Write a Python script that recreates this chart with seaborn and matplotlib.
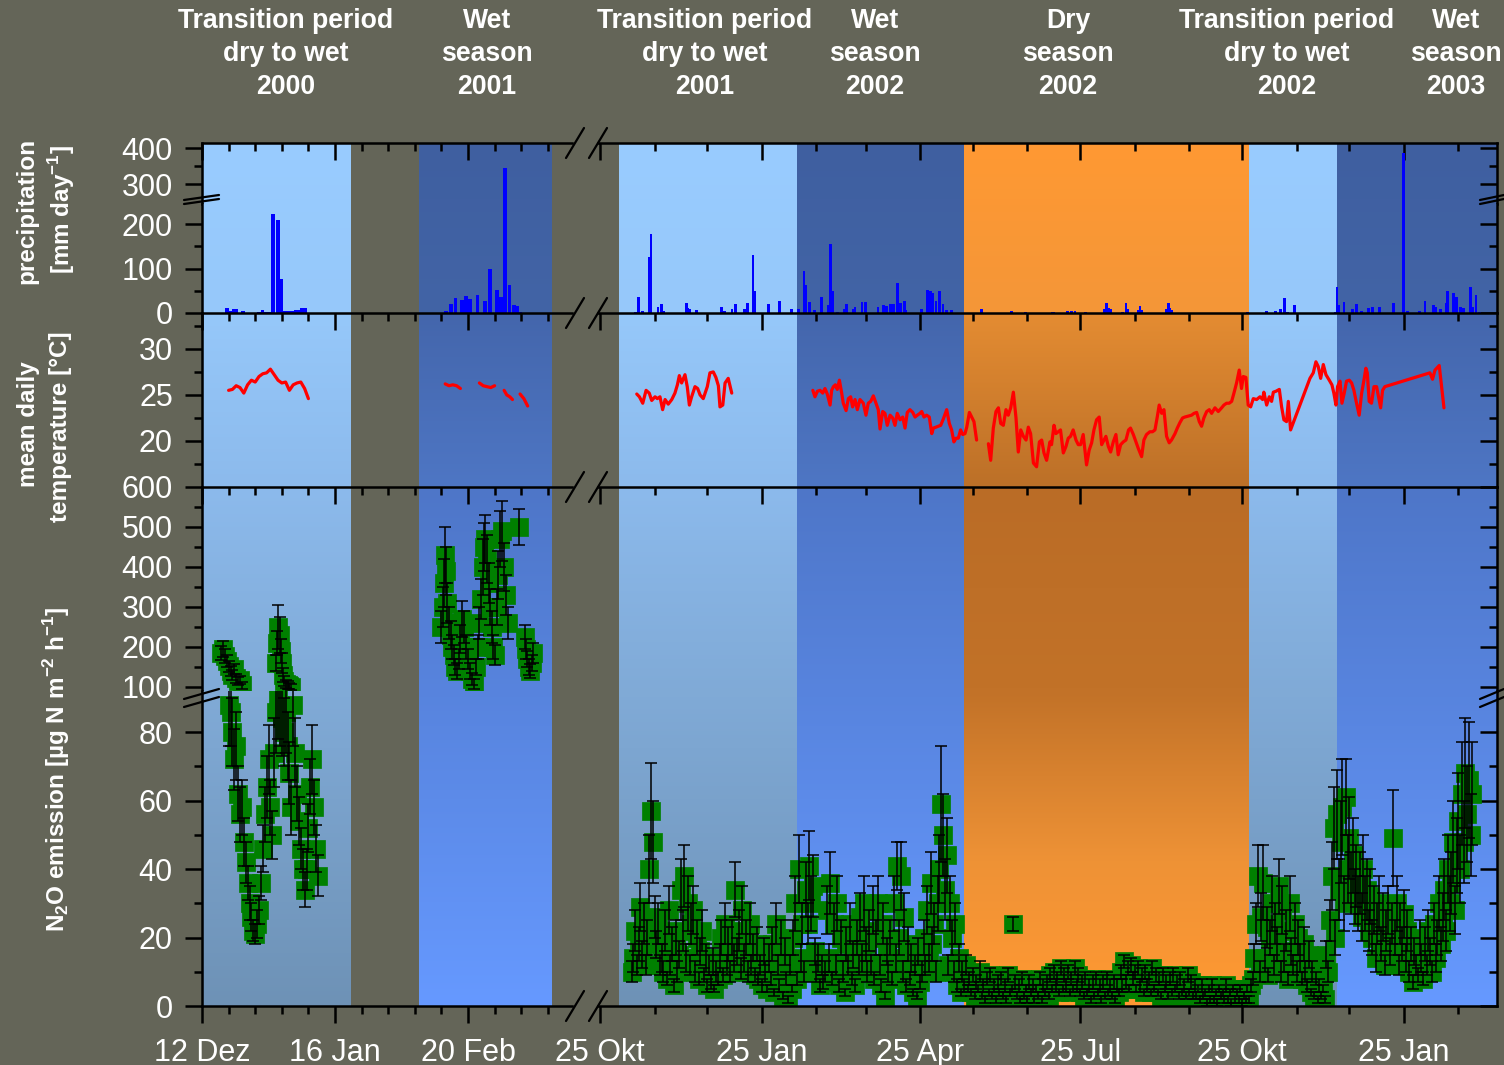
import numpy as np
import pandas as pd
import matplotlib
matplotlib.use("Agg")
import matplotlib.pyplot as plt
import matplotlib.dates as mdates
from matplotlib.lines import Line2D
import seaborn as sns

sns.set_style("ticks")
plt.rcParams["font.family"] = ["Liberation Sans", "DejaVu Sans"]
plt.rcParams["mathtext.fontset"] = "custom"
plt.rcParams["mathtext.rm"] = "Liberation Sans"
plt.rcParams["mathtext.bf"] = "Liberation Sans:bold"

# ---------------------------------------------------------------- data
LEFT_ORIGIN = "2000-12-12"    # day offsets of the 2000/2001 campaign
RIGHT_ORIGIN = "2001-10-25"   # day offsets of the 2001-2003 campaign

season_titles = ["Transition period\ndry to wet\n2000", "Wet\nseason\n2001",
                 "Transition period\ndry to wet\n2001", "Wet\nseason\n2002",
                 "Dry\nseason\n2002", "Transition period\ndry to wet\n2002",
                 "Wet\nseason\n2003"]

band_starts = ["2000-12-12", "2001-02-07", "2001-11-05", "2002-02-14",
               "2002-05-20", "2002-10-29", "2002-12-18"]
band_ends = ["2001-01-20", "2001-03-14", "2002-02-14", "2002-05-20",
             "2002-10-29", "2002-12-18", "2003-03-31"]
band_kinds = ["light", "dark", "light", "dark", "dry", "light", "dark"]

left_tick_dates = ["2000-12-12", "2001-01-16", "2001-02-20"]
left_tick_labels = ["12 Dez", "16 Jan", "20 Feb"]
right_tick_dates = ["2001-10-25", "2002-01-25", "2002-04-25", "2002-07-25",
                    "2002-10-25", "2003-01-25"]
right_tick_labels = ["25 Okt", "25 Jan", "25 Apr", "25 Jul", "25 Okt", "25 Jan"]

precip_hi_ticks = [300, 400]
precip_lo_ticks = [0, 100, 200]
temp_ticks = [20, 25, 30]
n2o_hi_ticks = [100, 200, 300, 400, 500, 600]
n2o_lo_ticks = [0, 20, 40, 60, 80]

# daily precipitation [mm]
precip_left_days = [6.6, 7.7, 8.3, 9.1, 10.8, 15.0, 15.9, 16.9, 17.9, 18.7, 19.9,
                    20.9, 21.9, 22.9, 23.9, 24.6, 25.4, 26.2, 27.1,
                    64.3, 65.5, 66.7, 68.4, 69.5, 70.5, 72.5, 74.5, 75.7, 77.6,
                    78.7, 79.7, 80.9, 82.2, 83.0, 83.8]
precip_left_mm = [12, 5, 10, 8, 5, 3, 7, 3, 3, 222, 210,
                  77, 4, 4, 5, 7, 6, 12, 12,
                  5, 20, 33, 30, 38, 32, 40, 28, 100, 52,
                  35, 345, 62, 17, 15, 3]
precip_right_days = [20, 22, 24, 28, 29, 33, 35, 36, 49, 50, 51, 55, 69, 71, 75, 77,
                     82, 84, 87, 88, 96, 102, 109, 113, 116, 117, 119, 122, 126, 130,
                     131, 132, 135, 139, 140, 144, 145, 149, 151, 158, 161, 163, 165,
                     167, 169, 171, 173, 174, 183, 186, 188, 189, 191, 193, 195, 197,
                     200, 217, 234, 242, 257, 258, 266, 268, 270, 276, 287, 288, 289,
                     290, 297, 299, 300, 306, 307, 308, 322, 323, 324, 325, 368, 379,
                     384, 387, 389, 391, 395, 418, 419, 420, 423, 428, 430, 433, 437,
                     439, 443, 451, 457, 459, 466, 469, 474, 475, 478, 481, 482, 485,
                     487, 489, 491, 495, 496, 498, 500]
precip_right_mm = [3, 37, 5, 126, 178, 14, 20, 4, 22, 12, 10, 6, 14, 4, 8, 20,
                   8, 22, 130, 49, 20, 27, 10, 8, 95, 63, 25, 7, 37, 18,
                   155, 49, 3, 10, 20, 10, 14, 25, 25, 14, 17, 16, 21,
                   20, 67, 22, 26, 6, 9, 52, 49, 44, 27, 49, 20, 6,
                   7, 9, 4, 3, 3, 3, 5, 4, 4, 3, 8, 23, 12,
                   8, 3, 22, 8, 6, 16, 6, 8, 23, 12, 6, 2, 4,
                   4, 10, 33, 3, 17, 2, 58, 19, 25, 8, 20, 5, 11,
                   14, 14, 23, 385, 5, 4, 27, 19, 14, 10, 23, 49, 46,
                   37, 14, 11, 58, 13, 40, 3]

# mean daily air temperature [deg C]
temp_dec2000_days = list(range(7, 29))
temp_dec2000 = [25.5, 25.6, 26.0, 25.8, 25.2, 26.1, 26.6, 26.4, 27.0, 27.3, 27.4,
                27.8, 27.2, 26.6, 26.3, 26.4, 25.5, 26.1, 26.3, 26.4, 25.7, 24.6]
temp_feb2001_days = [[64, 65, 66, 67, 68], [73, 74, 75, 76, 77],
                     [79.5, 80.2, 81.0, 81.7], [83.7, 84.7, 85.7]]
temp_feb2001 = [[26.2, 26.0, 26.1, 26.0, 25.7], [26.3, 26.0, 25.9, 25.8, 26.0],
                [25.5, 25.0, 24.8, 24.5], [25.1, 24.6, 23.8]]
temp_nov2001_days = [20.9, 22.4, 24.3, 26.2, 28.0, 29.4, 31.3, 32.6, 34.1, 35.6, 37.0,
                     38.8, 40.8, 42.6, 44.0, 45.1, 46.4, 48.3, 49.6, 50.8, 52.1, 54.0,
                     55.5, 56.9, 58.7, 61.0, 62.5, 64.4, 65.9, 67.3, 68.2, 69.8, 71.1,
                     72.9, 74.9]
temp_nov2001 = [25.1, 24.8, 24.1, 25.5, 25.2, 24.4, 24.8, 24.6, 24.8, 23.4, 24.5,
                24.0, 24.5, 25.2, 26.1, 27.1, 26.3, 27.2, 25.9, 23.9, 24.8, 25.9,
                25.7, 25.0, 24.6, 25.9, 27.4, 27.5, 26.9, 26.0, 23.7, 23.9, 26.3,
                26.8, 25.2]
temp_feb2002_days = [121.0, 122.2, 123.6, 125.1, 126.6, 127.9, 129.2, 130.8, 131.7,
                     132.7, 133.8, 134.9, 136.1, 137.4, 138.3, 139.9, 141.2, 142.5,
                     143.6, 145.0, 146.3, 147.8, 149.7, 151.2, 152.5, 153.9, 155.4,
                     156.9, 158.2, 159.2, 160.7, 162.0, 163.3, 164.9, 166.4, 167.7,
                     169.0, 170.6, 172.1, 173.4, 174.7, 176.2, 177.8, 179.1, 180.4,
                     181.9, 182.9, 184.2, 185.7, 187.2, 188.6, 189.5, 191.0, 192.3,
                     193.7, 195.2, 197.1, 198.6, 199.9, 201.2, 202.4, 203.7, 205.0,
                     206.2, 207.5, 208.5, 210.0, 211.3, 212.6, 214.1]
temp_feb2002 = [25.5, 24.8, 25.4, 25.5, 25.2, 25.7, 25.1, 23.9, 25.5,
                25.9, 26.1, 25.6, 26.6, 25.2, 24.1, 23.3, 24.6, 24.8,
                23.7, 24.5, 23.4, 24.5, 24.1, 22.8, 24.1, 24.3, 24.9,
                24.1, 23.4, 21.3, 23.2, 23.0, 21.7, 22.8, 22.5, 21.7,
                23.0, 22.3, 22.6, 21.4, 23.1, 23.4, 23.1, 22.6, 22.8,
                23.0, 23.2, 22.6, 22.8, 22.6, 20.8, 21.4, 21.5, 21.6,
                21.7, 22.4, 23.4, 21.9, 21.2, 19.9, 20.3, 20.3, 21.2,
                20.7, 20.8, 21.5, 23.1, 22.6, 22.1, 20.1]
temp_jun2002_days = [220.8, 222.1, 223.6, 225.1, 226.5, 227.8, 229.3, 230.8, 232.1,
                     233.5, 235.0, 236.5, 237.8, 239.2, 240.7, 242.2, 243.5, 244.8,
                     246.4, 248.2, 249.8, 251.1, 252.4, 253.9, 255.8, 256.7, 258.1,
                     259.2, 260.5, 261.8, 263.4, 264.9, 266.2, 267.5, 269.0, 270.6,
                     271.9, 273.2, 274.7, 276.6, 278.1, 279.5, 280.8, 282.3, 283.8,
                     285.2, 286.5, 287.6, 289.0, 290.3, 291.8, 293.3, 294.6, 296.0,
                     297.5, 299.0, 300.5, 301.6, 303.2, 304.7, 306.0, 307.9, 309.2,
                     310.7, 312.6, 314.1, 315.5, 316.8, 317.9, 319.3, 320.6, 322.1,
                     323.6, 324.9, 326.9, 328.2, 329.7, 331.2, 332.5, 334.4, 336.3,
                     337.7, 339.2, 340.7, 342.0, 343.3, 344.9, 346.4, 347.7, 349.6,
                     351.5, 353.4, 354.7, 356.2, 357.7, 359.1, 360.4, 361.9, 363.4,
                     364.7, 365.7, 367.2, 368.5, 369.9, 371.4, 373.3, 375.2, 376.7,
                     377.4, 379.0, 380.5, 381.8, 382.8, 384.3, 386.2, 387.5, 388.8,
                     390.3, 391.3, 392.6, 403.6, 405.5, 407.0, 408.3, 409.7, 411.2,
                     412.7, 414.6, 416.1, 417.2, 418.4, 419.3, 420.7, 421.8, 423.1,
                     424.4, 426.0, 427.3, 428.6, 430.1, 431.6, 433.0, 434.3, 435.4,
                     436.2, 437.3, 438.6, 440.0, 441.5, 442.6, 443.8, 444.9, 446.2,
                     471.8, 473.3, 474.7, 477.1, 479.8]
temp_jun2002 = [19.7, 17.9, 21.4, 23.2, 23.6, 21.9, 21.7, 23.4, 22.8,
                23.6, 25.3, 22.5, 18.8, 21.2, 20.5, 20.1, 21.5, 20.8,
                17.6, 17.2, 19.9, 20.1, 18.7, 17.9, 19.9, 19.6, 21.7,
                20.8, 21.0, 21.2, 18.7, 19.4, 20.3, 20.5, 21.2, 20.1,
                19.6, 19.6, 20.7, 17.4, 19.0, 19.8, 21.2, 22.3, 22.6,
                19.6, 20.1, 20.5, 19.4, 18.8, 19.9, 20.7, 18.5, 19.6,
                19.9, 20.1, 21.2, 21.4, 20.7, 19.9, 19.2, 18.3, 20.1,
                20.7, 21.0, 21.0, 21.2, 22.6, 23.9, 23.0, 23.4, 20.5,
                19.8, 20.1, 20.8, 21.4, 22.0, 22.5, 22.6, 22.7, 22.8,
                23.0, 23.1, 22.1, 21.6, 22.5, 23.2, 23.4, 23.0, 23.6,
                23.2, 23.6, 23.9, 24.1, 24.1, 24.3, 25.2, 26.3, 27.7,
                25.7, 27.0, 26.9, 23.9, 23.7, 24.6, 24.5, 24.8, 24.5,
                25.3, 23.9, 24.8, 24.3, 25.3, 25.4, 25.6, 23.7, 22.3,
                22.1, 24.3, 21.2, 26.8, 27.4, 28.6, 28.1, 26.8, 28.3,
                27.2, 26.6, 26.1, 25.2, 23.9, 25.9, 26.5, 24.1, 25.2,
                26.5, 26.6, 26.3, 25.5, 24.1, 22.8, 25.2, 26.6, 27.9,
                27.4, 24.3, 24.1, 25.9, 25.9, 24.8, 23.6, 25.5, 25.9,
                27.4, 26.7, 27.7, 28.2, 23.6]

# N2O emission [ug N m-2 h-1], 2000/2001 campaign
n2o_dec2000_days = [5.0, 5.5, 6.0, 6.5, 7.0, 7.5, 8.0, 8.5, 9.0, 9.5, 10.0, 10.5,
                    7.0, 7.5, 8.0, 8.5, 9.0, 9.5, 10.0, 10.5, 11.0, 11.5, 12.0, 12.5,
                    13.0, 13.5, 14.0, 14.5, 15.0, 15.5, 16.0, 16.5, 17.0, 17.5, 18.0,
                    18.5, 19.0, 19.5,
                    19.5, 19.8, 20.1, 20.4, 20.7, 21.0, 21.3, 21.6, 22.0, 22.5, 23.0, 23.5,
                    20.0, 20.5, 21.0, 21.5, 22.0, 22.5, 23.0, 23.5, 24.0, 24.5, 25.0,
                    25.5, 26.0, 26.5, 27.0, 27.5, 28.0, 28.5, 29.0, 29.5, 30.0, 30.5]
n2o_dec2000 = [185, 195, 178, 165, 152, 140, 130, 145, 122, 115, 118, 104,
               88, 86, 80, 72, 76, 62, 56, 58, 48, 42, 36, 30,
               26, 22, 21, 24, 28, 36, 46, 56, 64, 72, 58,
               50, 74, 86,
               160, 210, 250, 230, 190, 160, 130, 115, 108, 104, 102, 100,
               90, 88, 84, 80, 86, 76, 68, 58, 88, 74, 62,
               54, 46, 40, 34, 40, 52, 64, 72, 58, 46, 38]
n2o_dec2000_err = [18, 20, 18, 15, 14, 12, 12, 13, 11, 10, 10, 9,
                   12, 10, 10, 9, 10, 8, 8, 8, 7, 6, 5, 5,
                   4, 3, 3, 4, 4, 5, 7, 8, 9, 10, 8,
                   7, 10, 12,
                   20, 30, 55, 45, 30, 25, 18, 12, 10, 10, 8, 8,
                   12, 12, 11, 10, 12, 10, 9, 8, 12, 10, 8,
                   7, 6, 6, 5, 6, 7, 8, 10, 8, 7, 6]
n2o_feb2001_days = [63.0, 63.3, 63.6, 64.0, 64.3, 64.6, 65.0, 65.4, 65.8, 66.2, 66.6,
                    67.0, 67.5, 68.0, 68.5, 69.0, 69.5, 70.0, 70.5, 71.0, 71.5, 72.0,
                    72.5, 73.0, 73.5, 74.0, 74.3, 74.6, 75.0, 75.4, 75.8, 76.2, 76.6,
                    77.0, 77.5, 78.0, 78.5, 79.0, 79.5, 80.0, 80.5, 83.4,
                    85.0, 85.3, 85.6, 86.0, 86.4, 86.8, 87.2]
n2o_feb2001 = [250, 300, 360, 430, 390, 310, 260, 230, 200, 180, 150,
               140, 170, 220, 270, 250, 200, 170, 140, 120, 108, 150,
               200, 260, 320, 400, 450, 470, 420, 360, 300, 250, 200,
               180, 300, 380, 470, 490, 400, 330, 260, 500,
               225, 195, 170, 150, 140, 160, 185]
n2o_feb2001_err = [40, 50, 60, 70, 60, 50, 40, 35, 30, 25, 20,
                   20, 25, 35, 45, 40, 30, 25, 20, 15, 12, 20,
                   30, 40, 50, 70, 60, 60, 60, 50, 45, 40, 30,
                   25, 45, 60, 70, 75, 60, 50, 40, 45,
                   30, 25, 20, 20, 18, 20, 25]

# N2O emission, daily from 12 Nov 2001 (day 18) onwards
n2o_daily_first_day = 18
n2o_daily = [
    10, 14, 22, 12, 18, 29, 15, 24, 12, 20,
    40, 57, 48, 26, 18, 24, 12, 14, 10, 22,
    8, 28, 12, 18, 6, 20, 10, 15, 34, 22,
    38, 14, 30, 12, 24, 28, 10, 20, 8, 16,
    22, 9, 14, 6, 12, 7, 13, 5, 10, 8,
    14, 20, 9, 24, 12, 18, 10, 20, 14, 34,
    16, 22, 11, 28, 14, 20, 10, 24, 12, 17,
    9, 18, 8, 12, 6, 16, 10, 5, 14, 8,
    18, 4, 24, 12, 6, 20, 3, 16, 8, 2,
    12, 5, 20, 30, 8, 40, 14, 24, 10, 34,
    24, 41, 30, 35, 16, 10, 14, 6, 12, 7,
    10, 28, 14, 36, 8, 24, 12, 30, 6, 20,
    10, 4, 18, 12, 24, 8, 15, 6, 20, 12,
    26, 14, 30, 18, 10, 22, 12, 28, 8, 20,
    30, 12, 6, 24, 3, 16, 10, 20, 8, 30,
    14, 41, 20, 38, 10, 26, 6, 18, 8, 14,
    4, 12, 3, 16, 7, 10, 20, 12, 28, 14,
    36, 18, 24, 10, 30, 40, 59, 50, 34, 44,
    12, 30, 20, 10, 24, 6, 14, 4, 10, 6,
    12, 5, 8, 4, 9, 3, 7, 5, 10, 3,
    6, 2, 8, 4, 9, 3, 6, 2, 7, 4,
    8, 3, 6, 2, 9, 4, 5, 24, 7, 3,
    6, 2, 8, 3, 5, 2, 7, 4, 6, 2,
    5, 3, 8, 2, 6, 4, 7, 3, 9, 5,
    10, 6, 8, 4, 11, 5, 9, 6, 10, 4,
    8, 5, 11, 6, 9, 4, 7, 3, 8, 4,
    6, 2, 7, 3, 8, 4, 6, 2, 7, 3,
    8, 4, 6, 3, 7, 2, 6, 4, 10, 6,
    13, 7, 11, 5, 12, 8, 10, 5, 11, 6,
    9, 4, 10, 6, 8, 4, 11, 5, 9, 4,
    8, 3, 9, 5, 7, 3, 8, 4, 9, 5,
    7, 3, 8, 4, 6, 3, 9, 4, 7, 3,
    6, 3, 5, 2, 6, 3, 4, 1, 5, 2,
    6, 2, 4, 1, 5, 3, 4, 2, 6, 2,
    4, 1, 5, 2, 4, 2, 5, 1, 3, 2,
    5, 2, 6, 8, 14, 24, 38, 10, 26, 36,
    14, 23, 9, 20, 30, 12, 24, 18, 35, 10,
    28, 14, 22, 8, 30, 16, 12, 24, 10, 20,
    14, 8, 18, 10, 6, 15, 4, 10, 3, 8,
    2, 6, 3, 5, 2, 15, 10, 25, 38, 52,
    20, 56, 34, 48, 58, 30, 61, 40, 49, 36,
    44, 32, 38, 30, 36, 26, 40, 30, 34, 22,
    32, 20, 28, 14, 24, 30, 18, 26, 12, 22,
    28, 16, 24, 49, 20, 30, 12, 24, 18, 27,
    14, 22, 10, 18, 7, 16, 12, 9, 20, 14,
    8, 18, 12, 22, 16, 10, 24, 14, 20, 30,
    18, 26, 34, 22, 40, 30, 36, 48, 28, 44,
    54, 40, 62, 48, 68, 56, 66, 50, 62]
n2o_daily_err = [
    3, 4, 6, 3, 5, 7, 4, 6, 3, 5,
    10, 14, 12, 6, 4, 6, 3, 4, 3, 6,
    2, 7, 3, 5, 2, 5, 3, 4, 9, 6,
    9, 4, 8, 3, 6, 7, 3, 5, 2, 4,
    6, 2, 4, 2, 3, 2, 4, 1, 3, 2,
    4, 5, 2, 6, 3, 5, 3, 5, 4, 8,
    4, 6, 3, 7, 4, 5, 3, 6, 3, 4,
    2, 5, 2, 3, 2, 4, 3, 1, 4, 2,
    5, 1, 6, 3, 2, 5, 1, 4, 2, 1,
    3, 1, 5, 8, 2, 10, 4, 6, 3, 8,
    6, 10, 8, 9, 4, 3, 4, 2, 3, 2,
    3, 7, 4, 9, 2, 6, 3, 8, 2, 5,
    3, 1, 5, 3, 6, 2, 4, 2, 5, 3,
    7, 4, 8, 5, 3, 6, 3, 7, 2, 5,
    8, 3, 2, 6, 1, 4, 3, 5, 2, 8,
    4, 7, 5, 10, 3, 7, 2, 5, 2, 4,
    1, 3, 1, 4, 2, 3, 5, 3, 7, 4,
    9, 5, 6, 3, 8, 10, 17, 12, 9, 11,
    3, 8, 5, 3, 6, 2, 4, 1, 3, 2,
    3, 1, 2, 1, 2, 1, 2, 1, 3, 1,
    2, 1, 2, 1, 2, 1, 2, 1, 2, 1,
    2, 1, 2, 1, 2, 1, 1, 2, 2, 1,
    2, 1, 2, 1, 1, 1, 2, 1, 2, 1,
    1, 1, 2, 1, 2, 1, 2, 1, 2, 1,
    2, 2, 2, 1, 2, 1, 2, 2, 2, 1,
    2, 1, 2, 2, 2, 1, 2, 1, 2, 1,
    2, 1, 2, 1, 2, 1, 2, 1, 2, 1,
    2, 1, 2, 1, 2, 1, 2, 1, 2, 2,
    2, 2, 2, 1, 2, 2, 2, 1, 2, 2,
    2, 1, 2, 2, 2, 1, 2, 1, 2, 1,
    2, 1, 2, 1, 2, 1, 2, 1, 2, 1,
    2, 1, 2, 1, 2, 1, 2, 1, 2, 1,
    2, 1, 1, 1, 2, 1, 1, 1, 1, 1,
    2, 1, 1, 1, 1, 1, 1, 1, 2, 1,
    1, 1, 1, 1, 1, 1, 1, 1, 1, 1,
    1, 1, 2, 2, 4, 6, 9, 3, 7, 11,
    4, 6, 2, 5, 8, 3, 6, 5, 8, 3,
    7, 4, 6, 2, 8, 4, 3, 6, 3, 5,
    4, 2, 5, 3, 2, 4, 1, 3, 1, 2,
    1, 2, 1, 1, 1, 4, 3, 6, 10, 12,
    5, 13, 9, 12, 14, 8, 11, 10, 12, 9,
    11, 8, 9, 8, 9, 7, 10, 8, 9, 6,
    8, 5, 7, 4, 6, 8, 5, 7, 3, 6,
    7, 4, 6, 14, 5, 8, 3, 6, 5, 7,
    4, 6, 3, 5, 2, 4, 3, 2, 5, 4,
    2, 5, 3, 6, 4, 3, 6, 4, 5, 8,
    5, 7, 9, 6, 10, 8, 9, 12, 7, 11,
    14, 10, 15, 12, 16, 14, 17, 12, 15]

# ---------------------------------------------------------------- layout
W, H, DPI = 1504, 1065, 100
BG = "#646558"
GREEN = "#008000"
PX_PER_DAY = {"left": 3.8, "right": 1.759}
COL_PX = {"left": (202, 572), "right": (598, 1497)}
COL_ZERO_PX = {"left": 202, "right": 600}
ROW_PX = {"p_hi": (143, 204), "p_lo": (204, 313), "temp": (313, 487),
          "n_hi": (487, 691), "n_lo": (691, 1006)}
ROW_YLIM = {"p_hi": (245, 414), "p_lo": (0, 245), "temp": (15, 33.9),
            "n_hi": (90, 600), "n_lo": (0, 92)}
ROW_PANEL = {"p_hi": "precip", "p_lo": "precip", "temp": "temp",
             "n_hi": "n2o", "n_lo": "n2o"}
N2O_SPLIT = 95   # values at or above go to the upper part of the broken axis

# vertical colour gradients of the season bands (pixel row, rgb)
GRADIENT_STOPS = {
    "precip": {"light": [(143, (153, 204, 255)), (313, (150, 200, 250))],
               "dark": [(143, (63, 95, 160)), (313, (66, 100, 166))],
               "dry": [(143, (255, 153, 51)), (313, (244, 150, 56))]},
    "temp": {"light": [(313, (150, 200, 250)), (487, (140, 186, 236))],
             "dark": [(313, (68, 102, 172)), (487, (78, 118, 196))],
             "dry": [(313, (228, 140, 50)), (487, (188, 112, 40))]},
    "n2o": {"light": [(487, (140, 186, 236)), (1006, (110, 146, 182))],
            "dark": [(487, (78, 118, 200)), (1006, (102, 153, 255))],
            "dry": [(487, (186, 108, 38)), (690, (194, 114, 40)),
                    (860, (238, 146, 54)), (1006, (255, 153, 51))]},
}

ORIGIN_NUM = {"left": mdates.date2num(pd.Timestamp(LEFT_ORIGIN)),
              "right": mdates.date2num(pd.Timestamp(RIGHT_ORIGIN))}


def dnum(s):
    return mdates.date2num(pd.Timestamp(s))


def xs(col, days):
    return ORIGIN_NUM[col] + np.asarray(days, dtype=float)


def fig_xy(xp, yp):
    return xp / W, 1 - yp / H


fig = plt.figure(figsize=(W / DPI, H / DPI), dpi=DPI, facecolor=BG)

axes = {}
xlims = {}
for col in ("left", "right"):
    x0, x1 = COL_PX[col]
    lo = ORIGIN_NUM[col] + (x0 - COL_ZERO_PX[col]) / PX_PER_DAY[col]
    hi = ORIGIN_NUM[col] + (x1 - COL_ZERO_PX[col]) / PX_PER_DAY[col]
    xlims[col] = (lo, hi)
    for row, (y0, y1) in ROW_PX.items():
        ax = fig.add_axes([x0 / W, 1 - y1 / H, (x1 - x0) / W, (y1 - y0) / H])
        ax.set_facecolor(BG)
        ax.set_xlim(lo, hi)
        ax.set_ylim(*ROW_YLIM[row])
        axes[(col, row)] = ax


def draw_bands(ax, row):
    y0p, y1p = ROW_PX[row]
    rows = np.linspace(y0p, y1p, 80)
    ylo, yhi = ax.get_ylim()
    xlo, xhi = ax.get_xlim()
    for s, e, kind in zip(band_starts, band_ends, band_kinds):
        a, b = max(dnum(s), xlo), min(dnum(e), xhi)
        if b <= a:
            continue
        stops = GRADIENT_STOPS[ROW_PANEL[row]][kind]
        py = [p for p, _ in stops]
        rgb = np.array([c for _, c in stops], dtype=float) / 255.0
        img = np.stack([np.interp(rows, py, rgb[:, k]) for k in range(3)], axis=-1)
        ax.imshow(img[:, None, :], extent=(a, b, ylo, yhi), origin="upper",
                  aspect="auto", interpolation="bilinear", zorder=0)


for (col, row), ax in axes.items():
    draw_bands(ax, row)

# precipitation bars
for col, days, mm, w in (("left", precip_left_days, precip_left_mm, 1.0),
                         ("right", precip_right_days, precip_right_mm, 1.6)):
    for row in ("p_hi", "p_lo"):
        axes[(col, row)].bar(xs(col, days), mm, width=w, color="#0000FF",
                             linewidth=0, zorder=2)

# temperature lines
temp_segments = [("left", temp_dec2000_days, temp_dec2000)]
temp_segments += [("left", d, v) for d, v in zip(temp_feb2001_days, temp_feb2001)]
temp_segments += [("right", temp_nov2001_days, temp_nov2001),
                  ("right", temp_feb2002_days, temp_feb2002),
                  ("right", temp_jun2002_days, temp_jun2002)]
for col, d, v in temp_segments:
    sns.lineplot(x=xs(col, d), y=v, ax=axes[(col, "temp")], color="#FF0000",
                 linewidth=2.3, estimator=None, sort=False, legend=False, zorder=3)

# N2O emission with error bars, split over the broken value axis
n2o_series = [("left", n2o_dec2000_days, n2o_dec2000, n2o_dec2000_err),
              ("left", n2o_feb2001_days, n2o_feb2001, n2o_feb2001_err),
              ("right", list(range(n2o_daily_first_day,
                                   n2o_daily_first_day + len(n2o_daily))),
               n2o_daily, n2o_daily_err)]
for col, d, v, e in n2o_series:
    frame = pd.DataFrame({"x": xs(col, d), "v": v, "e": e})
    parts = {"n_hi": frame[frame["v"] >= N2O_SPLIT],
             "n_lo": frame[frame["v"] < N2O_SPLIT]}
    for row, part in parts.items():
        if part.empty:
            continue
        ax = axes[(col, row)]
        sns.scatterplot(data=part, x="x", y="v", ax=ax, marker="s", s=150,
                        color=GREEN, edgecolor=GREEN, linewidth=0.5,
                        legend=False, zorder=2)
        ax.errorbar(part["x"], part["v"], yerr=part["e"], fmt="none",
                    ecolor="black", elinewidth=1.1, capsize=4.6, capthick=1.1,
                    zorder=3)

# ---------------------------------------------------------------- axes styling
month25 = [pd.Timestamp("2001-10-25") + pd.DateOffset(months=k) for k in range(18)]
x_major = {"left": [dnum(s) for s in left_tick_dates],
           "right": [dnum(s) for s in right_tick_dates]}
x_minor = {"left": [ORIGIN_NUM["left"] + 7 * k for k in range(14)],
           "right": [mdates.date2num(t) for t in month25]}
x_labels = {"left": left_tick_labels, "right": right_tick_labels}
y_major = {"p_hi": precip_hi_ticks, "p_lo": precip_lo_ticks, "temp": temp_ticks,
           "n_hi": n2o_hi_ticks, "n_lo": n2o_lo_ticks}
y_minor = {"p_hi": [350], "p_lo": [50, 150], "temp": [17.5, 22.5, 27.5, 32.5],
           "n_hi": [150, 250, 350, 450, 550], "n_lo": [10, 30, 50, 70]}

for (col, row), ax in axes.items():
    for sp in ax.spines.values():
        sp.set_linewidth(1.8)
        sp.set_color("black")
    ax.spines["top"].set_visible(row in ("p_hi", "temp", "n_hi"))
    ax.spines["bottom"].set_visible(row == "n_lo")
    ax.spines["left"].set_visible(col == "left")
    ax.spines["right"].set_visible(col == "right")

    lo, hi = xlims[col]
    ax.set_xticks(x_major[col])
    ax.set_xticks([t for t in x_minor[col] if lo <= t <= hi], minor=True)
    if row == "n_lo":
        ax.set_xticklabels(x_labels[col])
        ax.xaxis.set_ticks_position("bottom")
        ax.tick_params(axis="x", which="both", direction="out", labelbottom=True,
                       labelsize=22, labelcolor="white", pad=11)
    elif row == "p_lo":
        ax.tick_params(axis="x", which="both", bottom=False, top=False,
                       labelbottom=False, labeltop=False)
    else:
        ax.xaxis.set_ticks_position("top")
        ax.tick_params(axis="x", which="both", direction="in",
                       labeltop=False, labelbottom=False)
    ax.tick_params(axis="x", which="major", length=12, width=1.8, color="black")
    ax.tick_params(axis="x", which="minor", length=6, width=1.8, color="black")

    ax.set_yticks(y_major[row])
    ax.set_yticks(y_minor[row], minor=True)
    ax.set_yticklabels([str(t) for t in y_major[row]])
    if col == "left":
        ax.yaxis.set_ticks_position("left")
        ax.tick_params(axis="y", which="both", direction="out", labelleft=True,
                       labelsize=22, labelcolor="white", pad=9)
    else:
        ax.yaxis.set_ticks_position("right")
        ax.tick_params(axis="y", which="both", direction="in",
                       labelright=False, labelleft=False)
    ax.tick_params(axis="y", which="major", length=12, width=1.8, color="black")
    ax.tick_params(axis="y", which="minor", length=6, width=1.8, color="black")
    ax.set_xlabel("")
    ax.set_ylabel("")
    # keep the exact time and value windows after tick placement
    ax.set_xlim(lo, hi)
    ax.set_ylim(*ROW_YLIM[row])


def fig_line(px_x, px_y, lw=1.6):
    fx = [x / W for x in px_x]
    fy = [1 - y / H for y in px_y]
    fig.add_artist(Line2D(fx, fy, color="black", lw=lw, transform=fig.transFigure))


# broken time axis marks
for yb in (143, 313, 487, 1006):
    for cx in (575, 598):
        fig_line([cx - 9, cx + 9], [yb + 15, yb - 15])
# broken value axis marks
for xl, xr in ((184, 219), (1480, 1504)):
    fig_line([xl, xr], [204, 199])
    fig_line([xl, xr], [200, 195])
    fig_line([xl, xr], [699, 689])
    fig_line([xl, xr], [707, 697])

# season titles
title_x_px = [286, 487, 705, 875, 1068, 1287, 1456]
for t, xp in zip(season_titles, title_x_px):
    fig.text(*fig_xy(xp, 54), t, ha="center", va="center", fontsize=19.2,
             fontweight="bold", color="white", linespacing=1.34)

# panel labels
ylabels = [("precipitation", 27, 211), (r"[mm day$^{\mathbf{-1}}$]", 62, 210),
           ("mean daily", 29, 424), ("temperature [°C]", 61, 427),
           (r"N$_{\mathbf{2}}$O emission [µg N m$^{\mathbf{-2}}$ h$^{\mathbf{-1}}$]", 57, 769)]
for t, xp, yp in ylabels:
    fig.text(*fig_xy(xp, yp), t, rotation=90, ha="center", va="center",
             fontsize=17.5, fontweight="bold", color="white")

fig.savefig("out.png", dpi=DPI, facecolor=BG)
